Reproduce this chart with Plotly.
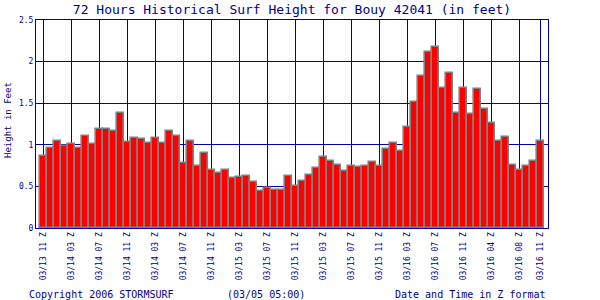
import plotly.graph_objects as go

heights = [0.87, 0.96, 1.04, 0.99, 1.01, 0.96, 1.10, 1.01, 1.19, 1.19, 1.17, 1.38,
           1.03, 1.08, 1.07, 1.02, 1.08, 1.02, 1.16, 1.11, 0.78, 1.04, 0.75, 0.90,
           0.70, 0.66, 0.70, 0.60, 0.61, 0.62, 0.55, 0.44, 0.48, 0.46, 0.46, 0.62,
           0.50, 0.57, 0.64, 0.72, 0.85, 0.81, 0.76, 0.68, 0.75, 0.73, 0.74, 0.79,
           0.74, 0.95, 1.02, 0.93, 1.21, 1.52, 1.83, 2.12, 2.18, 1.68, 1.86, 1.38,
           1.68, 1.37, 1.67, 1.43, 1.26, 1.05, 1.09, 0.76, 0.70, 0.74, 0.80, 1.05]
hours = list(range(len(heights)))
tick_positions = [0, 4, 8, 12, 16, 20, 24, 28, 32, 36, 40, 44, 48, 52, 56, 60, 64, 68, 71]
tick_labels = ["03/13 11 Z", "03/14 03 Z", "03/14 07 Z", "03/14 11 Z", "03/14 03 Z",
               "03/14 07 Z", "03/14 11 Z", "03/15 03 Z", "03/15 07 Z", "03/15 11 Z",
               "03/15 03 Z", "03/15 07 Z", "03/15 11 Z", "03/16 03 Z", "03/16 07 Z",
               "03/16 11 Z", "03/16 04 Z", "03/16 08 Z", "03/16 11 Z"]
y_ticks = [0, 0.5, 1, 1.5, 2, 2.5]
y_tick_labels = ["0", "0.5", "1", "1.5", "2", "2.5"]

NAVY = "#000088"
LINE = "#0000aa"
FONT = "DejaVu Sans Mono"

fig = go.Figure(go.Bar(
    x=hours, y=heights,
    marker=dict(color="#ff0000", line=dict(color="#808080", width=1.6)),
))

fig.update_layout(
    width=600, height=300,
    margin=dict(l=36, r=52, t=20, b=72),
    paper_bgcolor="white", plot_bgcolor="white",
    bargap=0, showlegend=False,
    font=dict(family=FONT, color=NAVY),
    title=dict(text="72 Hours Historical Surf Height for Bouy 42041 (in feet)",
               x=292/600, xanchor="center", y=1-9/300, yanchor="middle",
               font=dict(family=FONT, size=13, color=NAVY)),
)
fig.update_xaxes(
    range=[-1.07, 72.07], tickmode="array", tickvals=tick_positions, ticktext=tick_labels,
    tickangle=-90, tickfont=dict(family=FONT, size=8, color=NAVY),
    showgrid=True, gridcolor=LINE, gridwidth=1,
    showline=True, linecolor=LINE, linewidth=1, mirror=True,
    ticks="", zeroline=False,
)
fig.update_yaxes(
    range=[0, 2.5], tickmode="array", tickvals=y_ticks, ticktext=y_tick_labels,
    tickfont=dict(family=FONT, size=8, color=NAVY),
    showgrid=True, gridcolor=LINE, gridwidth=1,
    showline=True, linecolor=LINE, linewidth=1, mirror=True,
    ticks="", zeroline=False,
)

fig.add_annotation(text="Height in Feet", xref="paper", yref="paper",
                   x=(8-36)/512, y=(228-120)/208, textangle=-90, showarrow=False,
                   xanchor="center", yanchor="middle",
                   font=dict(family=FONT, size=9, color=NAVY))
fig.add_annotation(text="Copyright 2006 STORMSURF", xref="paper", yref="paper",
                   x=(27-36)/512, y=(228-294)/208, showarrow=False,
                   xanchor="left", yanchor="middle",
                   font=dict(family=FONT, size=10, color=NAVY))
fig.add_annotation(text="(03/05 05:00)", xref="paper", yref="paper",
                   x=(225-36)/512, y=(228-294)/208, showarrow=False,
                   xanchor="left", yanchor="middle",
                   font=dict(family=FONT, size=10, color=NAVY))
fig.add_annotation(text="Date and Time in Z format", xref="paper", yref="paper",
                   x=1, y=(228-294)/208, showarrow=False,
                   xanchor="right", yanchor="middle",
                   font=dict(family=FONT, size=10, color=NAVY))

fig.write_html("out.html")
